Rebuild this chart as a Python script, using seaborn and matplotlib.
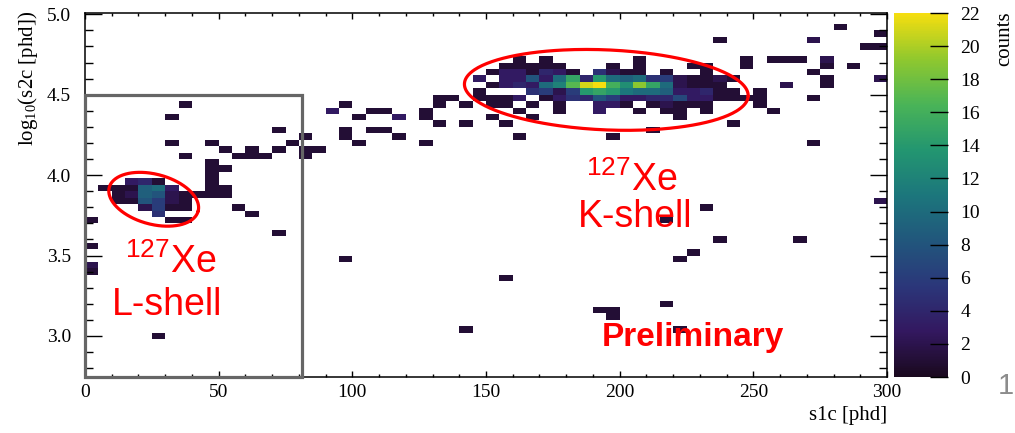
import numpy as np
import pandas as pd
import matplotlib
matplotlib.use("Agg")
import matplotlib.pyplot as plt
import seaborn as sns
from matplotlib.colors import LinearSegmentedColormap
from matplotlib.patches import Rectangle
from matplotlib.ticker import MultipleLocator, FormatStrFormatter

# ------------------------------------------------------------------ data
# histogram binning (s1c: 5 phd bins, log10 s2c: 0.04 bins)
s1c_edges = np.arange(0, 305, 5)
log_s2c_edges = np.round(2.74 + 0.04 * np.arange(58), 2)

# 127Xe L-shell region (grid of bin counts)
lshell_s1c = [2.5, 7.5, 12.5, 17.5, 22.5, 27.5, 32.5, 37.5, 42.5, 47.5, 52.5]
lshell_log_s2c = [4.08, 4.04, 4.00, 3.96, 3.92, 3.88, 3.84, 3.80, 3.76, 3.72]
lshell_counts = [
    [0, 0, 0, 0, 0, 0, 0, 0, 0, 1, 0],
    [0, 0, 0, 0, 0, 0, 0, 0, 0, 1, 1],
    [0, 0, 0, 0, 0, 0, 0, 0, 0, 1, 0],
    [0, 0, 0, 3, 4, 1, 0, 0, 0, 1, 0],
    [0, 1, 1, 1, 9, 10, 3, 0, 0, 1, 1],
    [0, 0, 1, 2, 9, 8, 2, 1, 1, 1, 1],
    [0, 0, 1, 1, 8, 6, 2, 1, 0, 0, 0],
    [0, 0, 0, 0, 2, 6, 1, 1, 0, 0, 0],
    [0, 0, 0, 0, 0, 5, 0, 0, 0, 0, 0],
    [1, 0, 0, 0, 0, 0, 1, 1, 0, 0, 0],
]

# 127Xe K-shell region (grid of bin counts)
kshell_s1c = [132.5, 137.5, 142.5, 147.5, 152.5, 157.5, 162.5, 167.5, 172.5,
              177.5, 182.5, 187.5, 192.5, 197.5, 202.5, 207.5, 212.5, 217.5,
              222.5, 227.5, 232.5, 237.5, 242.5, 247.5, 252.5, 257.5]
kshell_log_s2c = [4.72, 4.68, 4.64, 4.60, 4.56, 4.52, 4.48, 4.44, 4.40, 4.36,
                  4.32, 4.28, 4.24]
kshell_counts = [
    [0, 0, 0, 0, 0, 0, 1, 0, 1, 0, 0, 0, 0, 0, 0, 1, 0, 0, 0, 0, 0, 0, 0, 1, 0, 1],
    [0, 0, 0, 0, 0, 1, 1, 1, 1, 1, 0, 0, 0, 1, 0, 1, 0, 0, 0, 1, 1, 0, 0, 1, 0, 0],
    [0, 0, 0, 0, 1, 3, 3, 1, 4, 3, 1, 0, 5, 2, 1, 1, 0, 1, 0, 0, 1, 0, 0, 0, 0, 0],
    [0, 0, 0, 3, 0, 3, 3, 8, 3, 10, 15, 4, 14, 10, 9, 10, 5, 6, 2, 1, 1, 2, 1, 0, 0, 0],
    [0, 0, 0, 0, 1, 3, 4, 3, 10, 12, 17, 21, 22, 16, 13, 19, 15, 10, 2, 1, 1, 1, 0, 0, 0, 0],
    [0, 0, 0, 1, 0, 0, 0, 5, 6, 2, 6, 14, 15, 14, 11, 10, 10, 9, 3, 3, 4, 1, 1, 0, 1, 0],
    [1, 1, 0, 1, 1, 1, 3, 0, 1, 3, 5, 4, 8, 6, 3, 3, 4, 4, 7, 3, 3, 1, 1, 1, 1, 0],
    [1, 0, 1, 0, 1, 1, 0, 1, 0, 1, 0, 0, 3, 3, 1, 0, 1, 2, 1, 1, 1, 0, 0, 0, 1, 0],
    [0, 0, 0, 0, 0, 0, 1, 0, 0, 1, 0, 0, 3, 0, 0, 1, 0, 1, 1, 0, 1, 0, 0, 0, 0, 1],
    [0, 0, 0, 0, 1, 0, 0, 1, 0, 0, 0, 0, 0, 0, 0, 0, 0, 0, 1, 0, 0, 0, 0, 0, 0, 0],
    [1, 0, 1, 0, 0, 1, 0, 0, 0, 0, 0, 0, 0, 0, 0, 0, 0, 0, 0, 0, 0, 0, 1, 0, 0, 0],
    [0, 0, 0, 0, 0, 0, 0, 0, 0, 0, 0, 0, 0, 0, 0, 0, 1, 0, 0, 0, 0, 0, 0, 0, 0, 0],
    [0, 0, 0, 0, 0, 0, 1, 0, 0, 0, 0, 0, 0, 1, 0, 0, 0, 0, 0, 0, 0, 0, 0, 0, 0, 0],
]

# band of events between the two peaks
band_s1c = [37.5, 32.5, 32.5, 37.5, 47.5, 52.5, 57.5, 62.5, 67.5, 62.5, 72.5,
            72.5, 77.5, 82.5, 82.5, 87.5, 82.5, 97.5, 92.5, 102.5, 107.5, 112.5,
            117.5, 97.5, 97.5, 102.5, 107.5, 112.5, 117.5, 127.5, 127.5, 127.5]
band_log_s2c = [4.44, 4.36, 4.20, 4.12, 4.20, 4.16, 4.12, 4.12, 4.12, 4.16, 4.28,
                4.16, 4.20, 4.24, 4.16, 4.16, 4.12, 4.44, 4.40, 4.36, 4.40, 4.40,
                4.36, 4.28, 4.24, 4.20, 4.28, 4.28, 4.24, 4.40, 4.36, 4.20]
band_counts = [1, 1, 1, 1, 1, 1, 1, 1, 1, 1, 1, 1, 1, 1, 1, 1, 1, 1, 3, 1, 1, 1,
               3, 1, 1, 1, 1, 1, 1, 1, 1, 1]

# isolated events
sparse_s1c = [2.5, 2.5, 2.5, 27.5, 57.5, 62.5, 72.5, 97.5,
              282.5, 297.5, 272.5, 237.5, 292.5, 297.5, 262.5, 267.5, 277.5,
              277.5, 287.5, 272.5, 277.5, 277.5, 262.5, 297.5, 272.5, 272.5,
              297.5,
              142.5, 157.5, 192.5, 197.5, 197.5, 217.5, 222.5, 222.5, 227.5,
              217.5, 232.5, 237.5, 267.5]
sparse_log_s2c = [3.56, 3.44, 3.40, 3.00, 3.80, 3.76, 3.64, 3.48,
                  4.92, 4.88, 4.84, 4.84, 4.80, 4.80, 4.72, 4.72, 4.72,
                  4.68, 4.68, 4.64, 4.60, 4.56, 4.56, 4.60, 4.48, 4.20,
                  3.84,
                  3.04, 3.36, 3.16, 3.16, 3.12, 3.20, 3.04, 3.48, 3.52,
                  3.72, 3.80, 3.60, 3.60]
sparse_counts = [1, 2, 1, 1, 1, 1, 1, 1,
                 1, 1, 2, 1, 1, 1, 1, 1, 2,
                 1, 1, 1, 1, 1, 2, 2, 1, 1,
                 2,
                 1, 1, 1, 1, 1, 1, 1, 1, 1,
                 1, 1, 1, 1]

# colour scale of the z axis
count_ticks = [0, 2, 4, 6, 8, 10, 12, 14, 16, 18, 20, 22]


# ------------------------------------------------------------------ table
def grid_to_long(xs, ys, counts):
    c = np.asarray(counts, dtype=float)
    X, Y = np.meshgrid(xs, ys)
    m = c > 0
    return X[m], Y[m], c[m]


parts = [
    grid_to_long(lshell_s1c, lshell_log_s2c, lshell_counts),
    grid_to_long(kshell_s1c, kshell_log_s2c, kshell_counts),
    (np.array(band_s1c), np.array(band_log_s2c), np.array(band_counts, float)),
    (np.array(sparse_s1c), np.array(sparse_log_s2c), np.array(sparse_counts, float)),
]
df = pd.DataFrame({
    "s1c": np.concatenate([p[0] for p in parts]),
    "log_s2c": np.concatenate([p[1] for p in parts]),
    "counts": np.concatenate([p[2] for p in parts]),
})

# ROOT kViridis palette
root_viridis = LinearSegmentedColormap.from_list(
    "root_viridis",
    [(26/255, 9/255, 30/255), (51/255, 24/255, 96/255), (43/255, 55/255, 122/255),
     (33/255, 87/255, 124/255), (28/255, 118/255, 124/255), (35/255, 150/255, 112/255),
     (74/255, 180/255, 87/255), (144/255, 200/255, 46/255), (246/255, 222/255, 15/255)],
    N=256)

# ------------------------------------------------------------------ figure
serif = ["Liberation Serif", "DejaVu Serif"]
sans = ["Liberation Sans", "DejaVu Sans"]
plt.rcParams["font.family"] = serif
plt.rcParams["mathtext.default"] = "regular"

W, H = 1015, 433
fig = plt.figure(figsize=(W / 100, H / 100), dpi=100)
ax = fig.add_axes([85 / W, 1 - 377 / H, 802 / W, 364 / H])
cax = fig.add_axes([894 / W, 1 - 377 / H, 54 / W, 364 / H])

sns.histplot(data=df, x="s1c", y="log_s2c", weights="counts",
             bins=[s1c_edges, log_s2c_edges], cmap=root_viridis,
             vmin=0, vmax=22, cbar=True, cbar_ax=cax, ax=ax)

ax.set_xlim(0, 300)
ax.set_ylim(2.745, 5.008)

ax.xaxis.set_major_locator(MultipleLocator(50))
ax.xaxis.set_minor_locator(MultipleLocator(10))
ax.yaxis.set_major_locator(MultipleLocator(0.5))
ax.yaxis.set_minor_locator(MultipleLocator(0.1))
ax.yaxis.set_major_formatter(FormatStrFormatter("%.1f"))
ax.tick_params(which="both", direction="in", top=True, right=True,
               width=1.0, colors="black", labelsize=14)
ax.tick_params(axis="x", which="major", length=4.3, pad=5)
ax.tick_params(axis="x", which="minor", length=2.2)
ax.tick_params(axis="y", which="major", length=12, pad=10)
ax.tick_params(axis="y", which="minor", length=6)
for s in ax.spines.values():
    s.set_linewidth(1.1)

ax.set_xlabel("s1c [phd]", fontsize=15, loc="right")
ax.xaxis.set_label_coords(1.0, -0.08)
ax.set_ylabel("log$_{10}$(s2c [phd])", fontsize=15, loc="top")
ax.yaxis.set_label_coords(-0.056, 1.005)

# colour bar
cbar = ax.collections[0].colorbar
cbar.outline.set_visible(False)
cbar.set_ticks(count_ticks)
cax.tick_params(direction="in", length=13, width=1.0, labelsize=14, pad=9,
                right=True, left=False)
cax.minorticks_off()
fig.text(1005 / W, 1 - 11 / H, "counts", rotation=90, ha="center", va="top",
         fontsize=15, family=serif)

# annotations: box and ellipses (drawn in screen space)
box = Rectangle((0, 2.745), 81, 4.5 - 2.745, fill=False, edgecolor="#666666",
                linewidth=2.3, zorder=5, clip_on=False)
ax.add_patch(box)


def draw_ellipse(cx, cy, a_px, b_px, ang_deg):
    t = np.linspace(0, 2 * np.pi, 300)
    X0, Y0 = ax.transData.transform((cx, cy))
    th = np.deg2rad(ang_deg)
    X = X0 + a_px * np.cos(t) * np.cos(th) - b_px * np.sin(t) * np.sin(th)
    Y = Y0 + a_px * np.cos(t) * np.sin(th) + b_px * np.sin(t) * np.cos(th)
    pts = ax.transData.inverted().transform(np.column_stack([X, Y]))
    ax.plot(pts[:, 0], pts[:, 1], color="#ff0000", lw=2.3, zorder=6,
            solid_capstyle="round")


draw_ellipse(25.7, 3.85, 46, 25, -15)
draw_ellipse(195.0, 4.53, 142, 40, -2.5)

red = "#ff0000"
ax.text(32.2, 3.46, "$^{127}$Xe", color=red, fontsize=27, ha="center",
        va="center", family=sans, zorder=7)
ax.text(30.7, 3.19, "L-shell", color=red, fontsize=27, ha="center",
        va="center", family=sans, zorder=7)
ax.text(204.5, 3.97, "$^{127}$Xe", color=red, fontsize=27, ha="center",
        va="center", family=sans, zorder=7)
ax.text(205.6, 3.74, "K-shell", color=red, fontsize=27, ha="center",
        va="center", family=sans, zorder=7)
ax.text(227.3, 2.99, "Preliminary", color=red, fontsize=24, fontweight="bold",
        ha="center", va="center", family=sans, zorder=7)

fig.text(1006 / W, 1 - 386 / H, "1", color="#8c8c8c", fontsize=21,
         ha="center", va="center", family=sans)

fig.savefig("out.png", dpi=100)
